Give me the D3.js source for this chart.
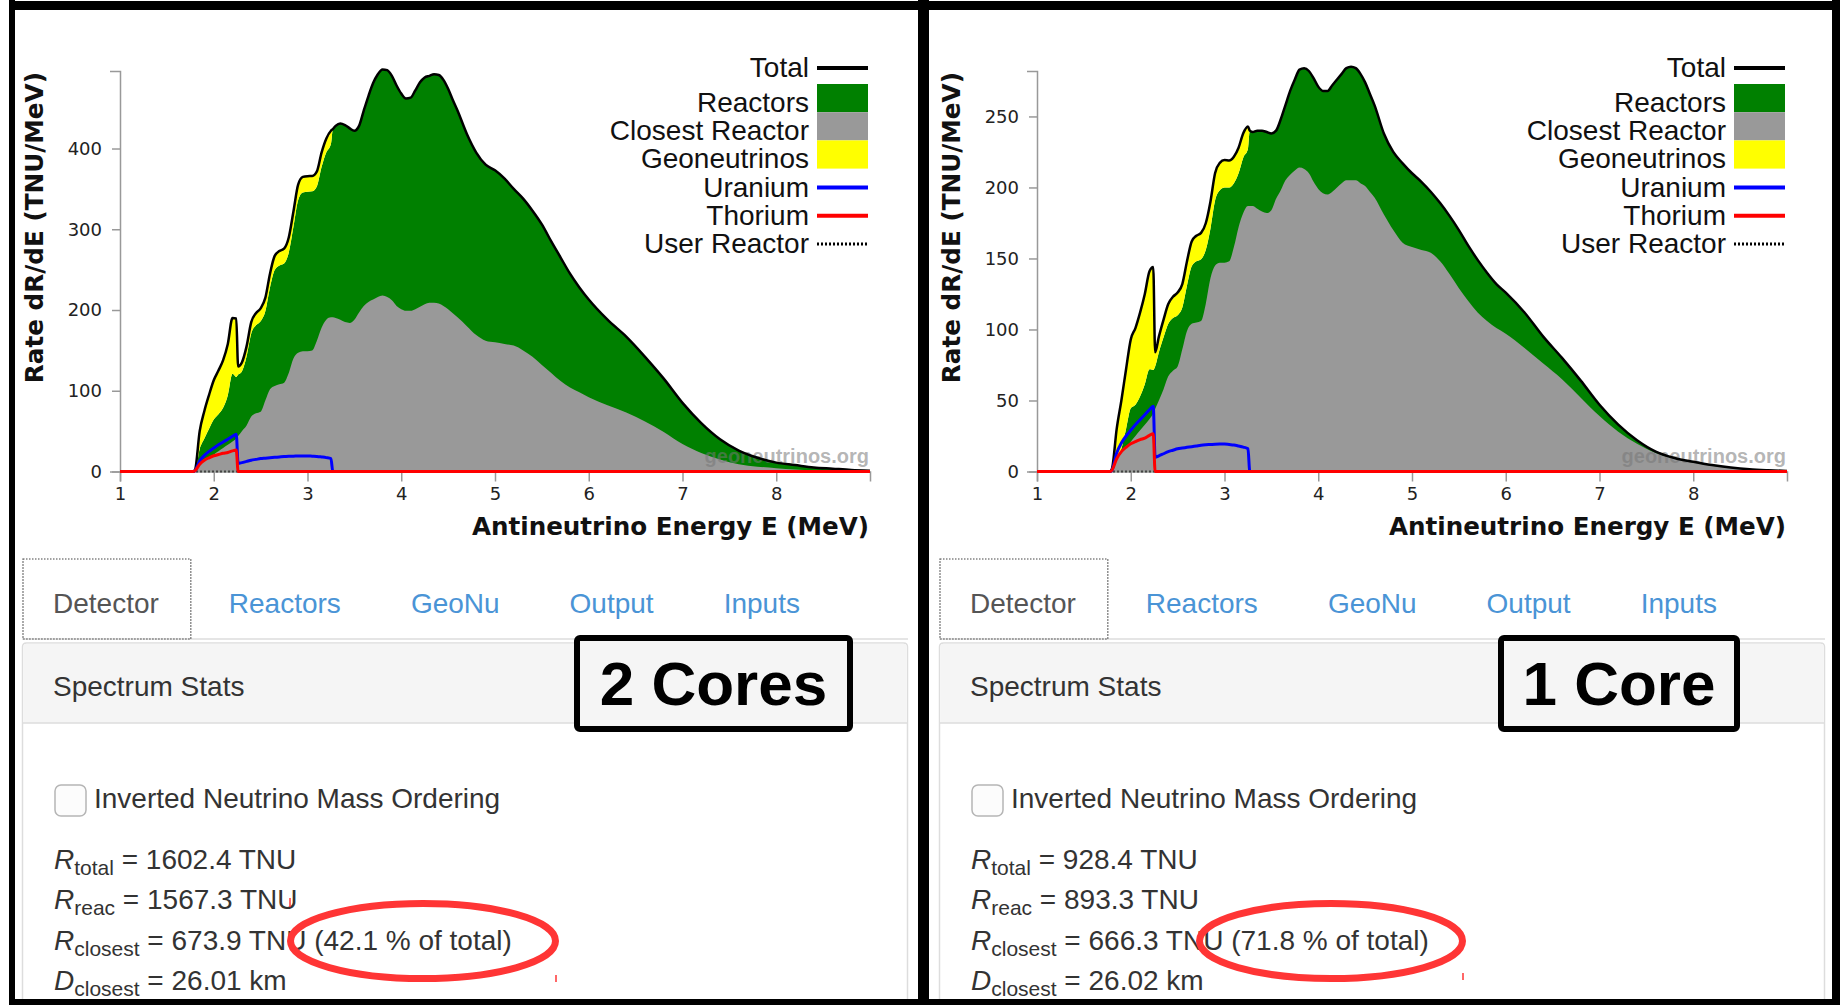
<!DOCTYPE html>
<html><head><meta charset="utf-8">
<script src="https://cdn.jsdelivr.net/npm/d3@7"></script>
<style>html,body{margin:0;padding:0;background:#fff;overflow:hidden}</style>
</head><body><svg id="c" width="1840" height="1005"></svg>
<script>
// ---------------- DATA ----------------
const energy = [
  1.0, 1.78, 1.8, 1.85, 1.9, 1.95, 2.0, 2.05, 2.1, 2.15,
  2.2, 2.24, 2.26, 2.3, 2.35, 2.4, 2.45, 2.5, 2.55, 2.6,
  2.65, 2.7, 2.75, 2.8, 2.85, 2.9, 2.95, 3.0, 3.05, 3.1,
  3.15, 3.2, 3.25, 3.27, 3.3, 3.35, 3.4, 3.45, 3.5, 3.55,
  3.6, 3.65, 3.7, 3.75, 3.8, 3.85, 3.9, 3.95, 4.0, 4.05,
  4.1, 4.15, 4.2, 4.25, 4.3, 4.35, 4.4, 4.45, 4.5, 4.55,
  4.6, 4.7, 4.8, 4.9, 5.0, 5.1, 5.2, 5.3, 5.4, 5.5,
  5.6, 5.7, 5.8, 5.9, 6.0, 6.2, 6.4, 6.6, 6.8, 7.0,
  7.2, 7.4, 7.6, 7.8, 8.0, 8.2, 8.4, 8.6, 8.8, 9.0];

const uranium = [
  0, 0, 1, 13, 20, 25, 29, 33, 36.5, 40,
  43.5, 46, 10, 11, 12.5, 14, 15, 16, 16.5, 17,
  17.5, 18, 18.5, 18.8, 19, 19.2, 19.3, 19.3, 19, 18.7,
  18, 17.2, 16, 0, 0, 0, 0, 0, 0, 0,
  0, 0, 0, 0, 0, 0, 0, 0, 0, 0,
  0, 0, 0, 0, 0, 0, 0, 0, 0, 0,
  0, 0, 0, 0, 0, 0, 0, 0, 0, 0,
  0, 0, 0, 0, 0, 0, 0, 0, 0, 0,
  0, 0, 0, 0, 0, 0, 0, 0, 0, 0];

const thorium = [
  0, 0, 1, 9, 14, 17, 19.5, 21, 22.5, 23.5,
  25.5, 26.5, 0, 0, 0, 0, 0, 0, 0, 0,
  0, 0, 0, 0, 0, 0, 0, 0, 0, 0,
  0, 0, 0, 0, 0, 0, 0, 0, 0, 0,
  0, 0, 0, 0, 0, 0, 0, 0, 0, 0,
  0, 0, 0, 0, 0, 0, 0, 0, 0, 0,
  0, 0, 0, 0, 0, 0, 0, 0, 0, 0,
  0, 0, 0, 0, 0, 0, 0, 0, 0, 0,
  0, 0, 0, 0, 0, 0, 0, 0, 0, 0];

const reactorsTwoCores = [
  0, 0, 0, 28, 41, 53, 64.5, 71, 79, 94.5,
  121, 117, 120, 124, 142.5, 171, 181, 186, 198.5, 228,
  249.5, 255, 257.5, 271, 303, 336, 345.5, 346.5, 347, 353,
  377, 395, 406, 424, 428, 431, 429, 425, 422, 428,
  447, 465, 481, 492, 498, 497, 490, 478, 468, 462,
  463, 472, 482, 488, 490, 492, 491, 485, 474, 460,
  447, 418, 395, 380, 373, 363, 350, 338, 323, 306,
  285, 265, 245, 228, 213, 188, 167, 142, 115, 85,
  60, 40, 26, 17, 11, 8, 5, 3.5, 2, 1];

const closestTwoCores = [
  0, 0, 0, 8, 13, 17, 21, 25, 29, 33,
  37, 41, 44, 50, 57, 68, 72, 74, 88, 102,
  106, 108, 110, 122, 140, 147, 149, 149, 150, 162,
  178, 188, 191, 191, 190, 188, 185, 184, 188, 197,
  205, 210, 213, 216, 218, 216, 212, 205, 201, 199,
  199, 201, 204, 207, 209, 209, 208, 205, 201, 196,
  191, 180, 169, 162, 160, 158, 156, 150, 142, 132,
  122, 112, 104, 98, 92, 82, 73, 62, 49, 34,
  23, 15, 9, 6, 4, 2.5, 1.5, 0.8, 0.4, 0.2];

const reactorsOneCore = [
  0, 0, 0, 8, 16, 30, 44.5, 47, 53, 61.5,
  72, 71.5, 74, 84, 94.5, 104, 108, 110, 115.5, 131,
  144.5, 148, 149.5, 156, 171, 191, 198, 200, 200, 203,
  210, 221, 227, 240, 239, 240, 240, 239, 238, 240,
  248, 258, 268, 276, 283, 284, 282, 277, 271, 268,
  268, 272, 276, 280, 284, 285, 284, 280, 274, 266,
  258, 238, 225, 217, 210, 204, 197, 189, 180, 170,
  159, 149, 140, 132, 126, 112, 95, 80, 64, 47,
  33, 22, 14, 9.5, 6.8, 4.5, 2.8, 1.6, 0.9, 0.4];

const closestOneCore = [
  0, 0, 0, 8, 13, 17, 21, 25, 29, 33,
  37, 41, 44, 50, 58, 67, 71, 74, 86, 99,
  104, 105, 106, 118, 136, 145, 147, 147, 148, 158,
  172, 182, 187, 187, 187, 185, 183, 182, 184, 192,
  198, 205, 209, 212, 214, 213, 210, 204, 199, 196,
  195, 197, 200, 203, 205, 205, 205, 203, 201, 197,
  193, 181, 170, 161, 158, 156, 154, 148, 139, 129,
  120, 112, 106, 101, 97, 87, 76, 65, 52, 39,
  28, 19.5, 13, 9, 6.3, 4, 2.5, 1.4, 0.8, 0.35];

const userReactorEnergy = [1, 9];
const userReactor = [0, 0];

const xTicks = [1, 2, 3, 4, 5, 6, 7, 8];
const yTicksTwoCores = [0, 100, 200, 300, 400];
const yTicksOneCore = [0, 50, 100, 150, 200, 250];
const yMaxTwoCores = 496;
const yMaxOneCore = 282;

const legendLabels = ["Total", "Reactors", "Closest Reactor", "Geoneutrinos", "Uranium", "Thorium", "User Reactor"];
const tabLabels = ["Detector", "Reactors", "GeoNu", "Output", "Inputs"];
const panelTitles = ["2 Cores", "1 Core"];
const rTotal = [1602.4, 928.4];
const rReac = [1567.3, 893.3];
const rClosest = [673.9, 666.3];
const pctOfTotal = [42.1, 71.8];
const dClosest = [26.01, 26.02];

// ---------------- DRAW ----------------
const svg = d3.select("#c");
svg.append("rect").attr("width", 1840).attr("height", 1005).attr("fill", "#fff");

const COLORS = {reactors: "#008000", closest: "#999999", geo: "#ffff00", u: "#0000ff", th: "#ff0000", total: "#000"};
const SANS = "'Liberation Sans', Arial, Helvetica, sans-serif";
const DJV = "'DejaVu Sans', Verdana, sans-serif";

function drawPanel(k, dx, reactors, closest, yMax, yTicks, boxW) {
  const g = svg.append("g").attr("transform", `translate(${dx},0)`);
  const x = d3.scaleLinear().domain([1, 9]).range([120, 870]);
  const y = d3.scaleLinear().domain([0, yMax]).range([471.5, 71]);
  const rows = energy.map((e, i) => ({e, r: reactors[i], c: closest[i], u: uranium[i], th: thorium[i]}));
  const curve = d3.curveMonotoneX;

  g.append("path").datum(rows).attr("fill", COLORS.reactors)
    .attr("d", d3.area().curve(curve).x(d => x(d.e)).y0(y(0)).y1(d => y(d.r)));
  g.append("path").datum(rows).attr("fill", COLORS.geo)
    .attr("d", d3.area().curve(curve).x(d => x(d.e)).y0(d => y(d.r)).y1(d => y(d.r + d.u + d.th)));
  g.append("path").datum(rows).attr("fill", COLORS.closest)
    .attr("d", d3.area().curve(curve).x(d => x(d.e)).y0(y(0)).y1(d => y(d.c)));

  // watermark
  g.append("text").attr("x", 869).attr("y", 463).attr("text-anchor", "end")
    .attr("font-family", SANS).attr("font-weight", "bold").attr("font-size", 20)
    .attr("fill", "#777").attr("fill-opacity", 0.55).text("geoneutrinos.org");

  // axes
  const xa = g.append("g").attr("transform", `translate(0,${y(0)})`)
    .call(d3.axisBottom(x).tickValues(xTicks).tickFormat(d3.format("d")).tickSizeInner(10).tickSizeOuter(10).tickPadding(6));
  const ya = g.append("g").attr("transform", `translate(${x(1)},0)`)
    .call(d3.axisLeft(y).tickValues(yTicks).tickFormat(d3.format("d")).tickSizeInner(8).tickSizeOuter(10).tickPadding(10));
  [xa, ya].forEach(a => {
    a.selectAll("path,line").attr("stroke", "#999").attr("stroke-width", 1.5);
    a.selectAll("text").attr("font-family", DJV).attr("font-size", 18).attr("fill", "#222");
  });

  // lines
  const line = (acc) => d3.line().curve(curve).x(d => x(d.e)).y(acc);
  g.append("path").datum(rows).attr("fill", "none").attr("stroke", COLORS.total).attr("stroke-width", 2.5)
    .attr("d", line(d => y(d.r + d.u + d.th)));
  g.append("path").datum(userReactorEnergy.map((e, i) => ({e, v: userReactor[i]})))
    .attr("fill", "none").attr("stroke", "#444").attr("stroke-width", 2).attr("stroke-dasharray", "2,2")
    .attr("d", d3.line().x(d => x(d.e)).y(d => y(d.v)));
  g.append("path").datum(rows).attr("fill", "none").attr("stroke", COLORS.u).attr("stroke-width", 3)
    .attr("stroke-linejoin", "round").attr("d", line(d => y(d.u)));
  g.append("path").datum(rows).attr("fill", "none").attr("stroke", COLORS.th).attr("stroke-width", 3)
    .attr("stroke-linejoin", "round").attr("d", line(d => y(d.th)));

  // axis titles
  g.append("text").attr("x", 869).attr("y", 535).attr("text-anchor", "end")
    .attr("font-family", DJV).attr("font-weight", "bold").attr("font-size", 24.6).attr("fill", "#111")
    .text("Antineutrino Energy E (MeV)");
  g.append("text").attr("transform", "translate(43,72) rotate(-90)").attr("text-anchor", "end")
    .attr("font-family", DJV).attr("font-weight", "bold").attr("font-size", 24.7).attr("fill", "#111")
    .text("Rate dR/dE (TNU/MeV)");

  // legend
  const kinds = ["line", "rect", "rect", "rect", "line", "line", "dot"];
  const swatchCol = [COLORS.total, COLORS.reactors, COLORS.closest, COLORS.geo, COLORS.u, COLORS.th, "#000"];
  legendLabels.forEach((lab, i) => {
    const base = i === 0 ? 77 : 112 + (i - 1) * 28.2;
    g.append("text").attr("x", 809).attr("y", base).attr("text-anchor", "end")
      .attr("font-family", SANS).attr("font-size", 28).attr("fill", "#111").text(lab);
    if (kinds[i] === "rect") {
      g.append("rect").attr("x", 817).attr("y", base - 28).attr("width", 51).attr("height", 28.2).attr("fill", swatchCol[i]);
    } else {
      g.append("line").attr("x1", 817).attr("x2", 868).attr("y1", base - 9).attr("y2", base - 9)
        .attr("stroke", swatchCol[i]).attr("stroke-width", kinds[i] === "dot" ? 3 : 4)
        .attr("stroke-dasharray", kinds[i] === "dot" ? "2,2" : null);
    }
  });

  // tabs
  g.append("line").attr("x1", 22).attr("x2", 908).attr("y1", 639).attr("y2", 639).attr("stroke", "#ddd").attr("stroke-width", 1.5);
  let tx = 53;
  tabLabels.forEach((t, i) => {
    const el = g.append("text").attr("x", tx).attr("y", 613).attr("font-family", SANS).attr("font-size", 28)
      .attr("fill", i === 0 ? "#555" : "#4a94d6").text(t);
    const w = el.node().getComputedTextLength();
    if (i === 0) {
      g.append("rect").attr("x", 23).attr("y", 559).attr("width", w + 62).attr("height", 80)
        .attr("fill", "none").attr("stroke", "#444").attr("stroke-width", 1.2).attr("stroke-dasharray", "1.5,1.5");
    }
    tx += w + 70;
  });

  // stats panel
  g.append("path").attr("d", "M22.5,1010 L22.5,647 Q22.5,643 26.5,643 L903.5,643 Q907.5,643 907.5,647 L907.5,1010")
    .attr("fill", "#fff").attr("stroke", "#ddd").attr("stroke-width", 1.5);
  g.append("path").attr("d", "M23.3,723 L23.3,647.5 Q23.3,643.8 27,643.8 L903,643.8 Q906.7,643.8 906.7,647.5 L906.7,723 Z")
    .attr("fill", "#f5f5f5");
  g.append("line").attr("x1", 23).attr("x2", 907).attr("y1", 723).attr("y2", 723).attr("stroke", "#ddd").attr("stroke-width", 1.5);
  g.append("text").attr("x", 53).attr("y", 696).attr("font-family", SANS).attr("font-size", 28).attr("fill", "#333").text("Spectrum Stats");

  g.append("rect").attr("x", 55).attr("y", 785).attr("width", 31).attr("height", 31).attr("rx", 6)
    .attr("fill", "#fcfcfc").attr("stroke", "#b5b5b5").attr("stroke-width", 1.5);
  g.append("text").attr("x", 94).attr("y", 808).attr("font-family", SANS).attr("font-size", 28).attr("fill", "#333")
    .text("Inverted Neutrino Mass Ordering");

  const statLines = [
    ["R", "total", ` = ${rTotal[k].toFixed(1)} TNU`],
    ["R", "reac", ` = ${rReac[k].toFixed(1)} TNU`],
    ["R", "closest", ` = ${rClosest[k].toFixed(1)} TNU (${pctOfTotal[k].toFixed(1)} % of total)`],
    ["D", "closest", ` = ${dClosest[k].toFixed(2)} km`]
  ];
  const bases = [869, 909, 950, 990];
  statLines.forEach((s, i) => {
    const t = g.append("text").attr("x", 54).attr("y", bases[i]).attr("font-family", SANS).attr("font-size", 28).attr("fill", "#333");
    t.append("tspan").attr("font-style", "italic").text(s[0]);
    t.append("tspan").attr("font-size", 21).attr("dy", 6).text(s[1]);
    t.append("tspan").attr("dy", -6).text(s[2]);
  });

  // annotation box
  const titleBox = g.append("g");
  const tt = titleBox.append("text").attr("y", 705).attr("text-anchor", "middle")
    .attr("font-family", SANS).attr("font-weight", "bold").attr("font-size", 62).attr("fill", "#000").text(panelTitles[k]);
  const bx0 = k === 0 ? 577 : 1501 - dx;
  tt.attr("x", bx0 + boxW / 2);
  titleBox.insert("rect", "text").attr("x", bx0).attr("y", 638).attr("width", boxW).attr("height", 91).attr("rx", 3)
    .attr("fill", "#f5f5f5").attr("stroke", "#000").attr("stroke-width", 6);

  // red ellipse
  const ecx = k === 0 ? 423 : 1331 - dx;
  g.append("ellipse").attr("cx", ecx).attr("cy", 941).attr("rx", k === 0 ? 132.5 : 131.5).attr("ry", 37.5)
    .attr("fill", "none").attr("stroke", "#ff3535").attr("stroke-width", 7);
  const marks = k === 0 ? [[290, 898, 907], [556, 975, 982]] : [[1463 - dx, 973, 980]];
  marks.forEach(m => g.append("line").attr("x1", m[0]).attr("x2", m[0]).attr("y1", m[1]).attr("y2", m[2])
    .attr("stroke", "#ff3535").attr("stroke-width", 1.5));
}

drawPanel(0, 0, reactorsTwoCores, closestTwoCores, yMaxTwoCores, yTicksTwoCores, 273);
drawPanel(1, 917, reactorsOneCore, closestOneCore, yMaxOneCore, yTicksOneCore, 236);

// black frames
const frame = svg.append("g").attr("fill", "#000");
frame.append("rect").attr("x", 9).attr("y", 0).attr("width", 6).attr("height", 1005);
frame.append("rect").attr("x", 9).attr("y", 1).attr("width", 1831).attr("height", 9);
frame.append("rect").attr("x", 918).attr("y", 0).attr("width", 11).attr("height", 1005);
frame.append("rect").attr("x", 1832).attr("y", 0).attr("width", 8).attr("height", 1005);
frame.append("rect").attr("x", 9).attr("y", 999).attr("width", 1831).attr("height", 6);
</script></body></html>
